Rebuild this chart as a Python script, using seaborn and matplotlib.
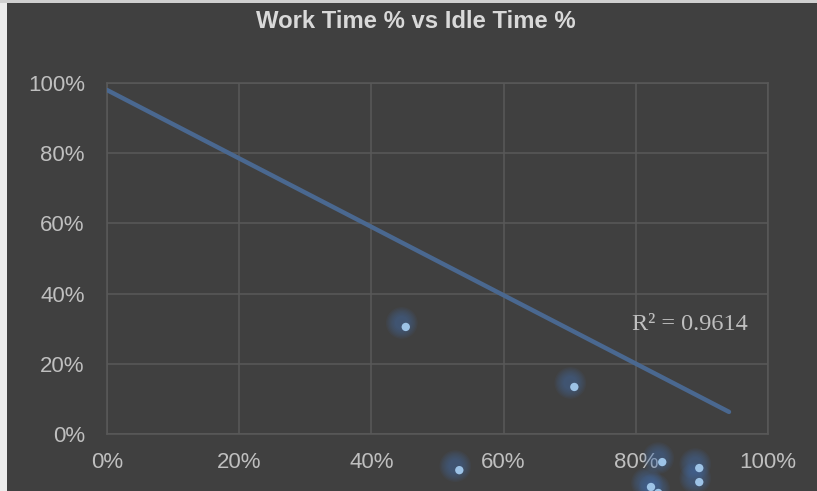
import pandas as pd
import seaborn as sns
import matplotlib.pyplot as plt
from matplotlib.patches import Rectangle
from matplotlib.ticker import PercentFormatter
from matplotlib.transforms import offset_copy

# Values (fractions)
work_pct = [0.452, 0.533, 0.707, 0.840, 0.896, 0.896, 0.823, 0.834]
idle_pct = [0.305, -0.103, 0.134, -0.080, -0.097, -0.137, -0.151, -0.168]

# Linear trend line shown in the chart
trend_x = [0.0, 0.941]
trend_intercept = 0.98
trend_slope = -0.9745
r_squared = 0.9614

tick_vals = [0, 0.2, 0.4, 0.6, 0.8, 1.0]

bg = "#404040"
grid_col = "#595959"
text_col = "#bfbfbf"

sns.set_style("dark")
plt.rcParams["font.family"] = ["Liberation Sans", "DejaVu Sans"]

df = pd.DataFrame({"work": work_pct, "idle": idle_pct})
trend = pd.DataFrame({"x": trend_x})
trend["y"] = trend_intercept + trend_slope * trend["x"]

fig = plt.figure(figsize=(8.17, 4.91), dpi=100, facecolor=bg)
ax = fig.add_axes([107 / 817, 57 / 491, 661 / 817, 351 / 491])
ax.set_facecolor(bg)

# light frame edge on the left / top of the original screenshot
fig.patches.append(Rectangle((0, 0), 7 / 817, 1, transform=fig.transFigure,
                             facecolor="#ececec", edgecolor="none", zorder=10))
fig.patches.append(Rectangle((0, 1 - 3 / 491), 1, 3 / 491, transform=fig.transFigure,
                             facecolor="#d0d0d0", edgecolor="none", zorder=10))

ax.set_xlim(0, 1)
ax.set_ylim(0, 1)
ax.set_xticks(tick_vals)
ax.set_yticks(tick_vals)
ax.xaxis.set_major_formatter(PercentFormatter(1.0, decimals=0))
ax.yaxis.set_major_formatter(PercentFormatter(1.0, decimals=0))
ax.grid(True, color=grid_col, linewidth=1.1)
for s in ax.spines.values():
    s.set_visible(True)
    s.set_color(grid_col)
    s.set_linewidth(1.1)
ax.tick_params(axis="both", length=0, labelsize=16, labelcolor=text_col)
ax.tick_params(axis="y", pad=16)
ax.tick_params(axis="x", pad=13)

# trend line
sns.lineplot(data=trend, x="x", y="y", ax=ax, color="#4a6890", linewidth=3.2,
             solid_capstyle="round", zorder=3)

# soft glow behind each point (shifted up-left)
glow_tr = offset_copy(ax.transData, fig=fig, x=-4, y=4, units="dots")
for size in [520, 440, 370, 300, 240, 190, 140, 100]:
    ax.scatter(df["work"], df["idle"], s=size, color="#4674b4", alpha=0.07,
               edgecolors="none", transform=glow_tr, clip_on=False, zorder=4)

sns.scatterplot(data=df, x="work", y="idle", ax=ax, s=36, color="#9dc3e6",
                edgecolor="none", clip_on=False, zorder=5)
ax.set_xlabel("")
ax.set_ylabel("")

ax.text(0.794, 0.313, f"R\u00b2 = {r_squared:.4f}", transform=ax.transAxes,
        ha="left", va="center", fontsize=17.5, color=text_col,
        family=["Liberation Serif", "DejaVu Serif"])

fig.text(416 / 817, 1 - 22 / 491, "Work Time % vs Idle Time %", ha="center",
         va="center", fontsize=17.2, fontweight="bold", color="#d9d9d9")

fig.savefig("out.png", dpi=100, facecolor=bg)
